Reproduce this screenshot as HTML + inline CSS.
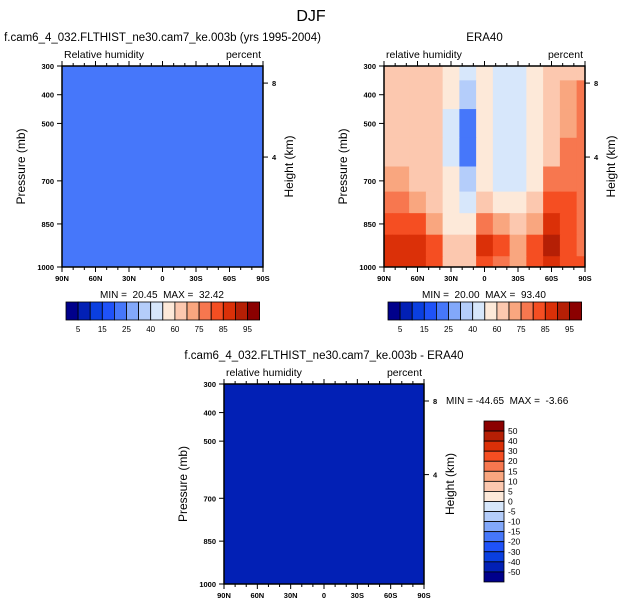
<!DOCTYPE html>
<html><head><meta charset="utf-8"><style>
body{margin:0;background:#fff;}
svg{display:block;font-family:"Liberation Sans",sans-serif;}
text{white-space:pre;}
</style></head><body>
<svg id="s" width="622" height="606" viewBox="0 0 622 606">
<text x="311" y="21" font-size="16" text-anchor="middle">DJF</text>
</svg>
<script>
const lats=[90,75,60,45,30,15,0,-15,-30,-45,-60,-75,-90];
const levels=[300,400,500,600,700,775,850,925,1000];
const eraRH=[
[65,65,65,62,58,45,55,48,48,52,62,65,65],
[65,65,65,62,52,32,55,45,42,52,62,70,75],
[65,65,65,62,48,22,55,42,42,55,65,72,75],
[65,68,65,62,48,22,55,42,42,55,68,75,78],
[72,72,68,62,50,35,58,45,42,58,75,78,76],
[75,75,72,65,52,45,65,58,52,65,80,80,76],
[80,82,80,72,58,55,75,70,65,72,85,82,75],
[85,88,88,80,65,65,87,82,70,82,90,82,76],
[85,86,85,80,68,68,84,78,70,80,86,82,80]];
const modelValue=22;
const diffValue=-45;
const rhBounds=[5,10,15,20,25,30,40,50,60,70,75,80,85,90,95];
const rhLabels=["5","15","25","40","60","75","85","95"];
const diffBounds=[-50,-40,-30,-20,-15,-10,-5,0,5,10,15,20,30,40,50];
const diffLabels=["50","40","30","20","15","10","5","0","-5","-10","-15","-20","-30","-40","-50"];
const xTicks=["90N","60N","30N","0","30S","60S","90S"];
const pTicks=[300,400,500,700,850,1000];
const colors=["#00008b","#0220b5","#0a3fe0","#1f52f8","#4677fa","#82a8fa","#b4cdfa","#d7e7fb","#fde9d9","#fcc8af","#f9a67f","#f7774f","#f54e22","#db3008","#b51f05","#8b0000"];
const NS="http://www.w3.org/2000/svg";
const svg=document.getElementById('s');
function el(t,a,txt){const e=document.createElementNS(NS,t);for(const k in a)e.setAttribute(k,a[k]);if(txt!==undefined)e.textContent=txt;svg.appendChild(e);return e;}
function colorFor(v,b){let i=0;while(i<b.length&&v>=b[i])i++;return colors[i];}
function panel(x0,y0,w,h,title,left,kind,name){
  const xs=lat=>x0+(90-lat)/180*w;
  const ys=p=>y0+(p-300)/700*h;
  el('text',{x:x0+w/2,y:y0-25,'font-size':11.5,'text-anchor':'middle',},title);
  el('text',{x:x0+2,y:y0-8,'font-size':10.5,},left);
  el('text',{x:x0+w-2,y:y0-8,'font-size':10.5,'text-anchor':'end',},'percent');
  if(kind==='era'){
    for(let r=0;r<levels.length;r++)for(let c=0;c<lats.length;c++){
      const la=c===0?90:(lats[c-1]+lats[c])/2, lb=c===lats.length-1?-90:(lats[c]+lats[c+1])/2;
      const pa=r===0?300:(levels[r-1]+levels[r])/2, pb=r===levels.length-1?1000:(levels[r]+levels[r+1])/2;
      const e=el('rect',{x:xs(la),y:ys(pa),width:xs(lb)-xs(la)+0.5,height:ys(pb)-ys(pa)+0.5,fill:colorFor(eraRH[r][c],rhBounds)});
      
      
    }
  } else {
    const v=kind==='model'?modelValue:diffValue;
    el('rect',{x:x0,y:y0,width:w,height:h,fill:colorFor(v,kind==='model'?rhBounds:diffBounds),});
  }
  el('rect',{x:x0,y:y0,width:w,height:h,fill:'none',stroke:'#000','stroke-width':1.5,});
  for(let lat=90;lat>=-90;lat-=10){
    const major=lat%30===0, x=xs(lat);
    el('line',{x1:x,x2:x,y1:y0+h,y2:y0+h+(major?5:3),stroke:'#000'});
    el('line',{x1:x,x2:x,y1:y0,y2:y0-(major?5:3),stroke:'#000'});
  }
  xTicks.forEach((t,i)=>el('text',{x:xs(90-i*30),y:y0+h+14,'font-size':7.5,'font-weight':'bold','text-anchor':'middle',},t));
  pTicks.forEach(p=>{el('line',{x1:x0,x2:x0-5,y1:ys(p),y2:ys(p),stroke:'#000'});
    el('text',{x:x0-8,y:ys(p)+3,'font-size':7.5,'font-weight':'bold','text-anchor':'end',},p);});
  [[8,0.085],[4,0.453]].forEach(([z,f])=>{const y=y0+f*h;el('line',{x1:x0+w,x2:x0+w+5,y1:y,y2:y,stroke:'#000'});
    el('text',{x:x0+w+9,y:y+3,'font-size':7.5,'font-weight':'bold',},z);});
  el('text',{x:0,y:0,'font-size':12,'text-anchor':'middle',transform:`translate(${x0-37},${y0+h/2}) rotate(-90)`,},'Pressure (mb)');
  el('text',{x:0,y:0,'font-size':12,'text-anchor':'middle',transform:`translate(${x0+w+30},${y0+h/2}) rotate(-90)`,},'Height (km)');
}
function hbar(x0,y0,name){const bw=12.1;
  colors.forEach((c,i)=>el('rect',{x:x0+i*bw,y:y0,width:bw,height:18,fill:c,stroke:'#000','stroke-width':0.8,}));
  rhLabels.forEach((t,i)=>el('text',{x:x0+(2*i+1)*bw,y:y0+30,'font-size':8,'text-anchor':'middle',},t));}
panel(62,66,201,201,'f.cam6_4_032.FLTHIST_ne30.cam7_ke.003b (yrs 1995-2004)','Relative humidity','model','model-panel');
el('text',{x:162,y:298,'font-size':10,'text-anchor':'middle',},'MIN =  20.45  MAX =  32.42');
hbar(66,302,'model-colorbar');
panel(384,66,201,201,'ERA40','relative humidity','era','era-panel');
el('text',{x:484,y:298,'font-size':10,'text-anchor':'middle',},'MIN =  20.00  MAX =  93.40');
hbar(388,302,'era-colorbar');
panel(224,384,200,200,'f.cam6_4_032.FLTHIST_ne30.cam7_ke.003b - ERA40','relative humidity','diff','diff-panel');
el('text',{x:446,y:404,'font-size':10,},'MIN = -44.65  MAX =  -3.66');
for(let i=0;i<16;i++)el('rect',{x:484,y:421+i*10.06,width:20,height:10.06,fill:colors[15-i],stroke:'#000','stroke-width':0.8,});
diffLabels.forEach((t,i)=>el('text',{x:508,y:421+(i+1)*10.06+3,'font-size':8.5,},t));
</script>
</body></html>
